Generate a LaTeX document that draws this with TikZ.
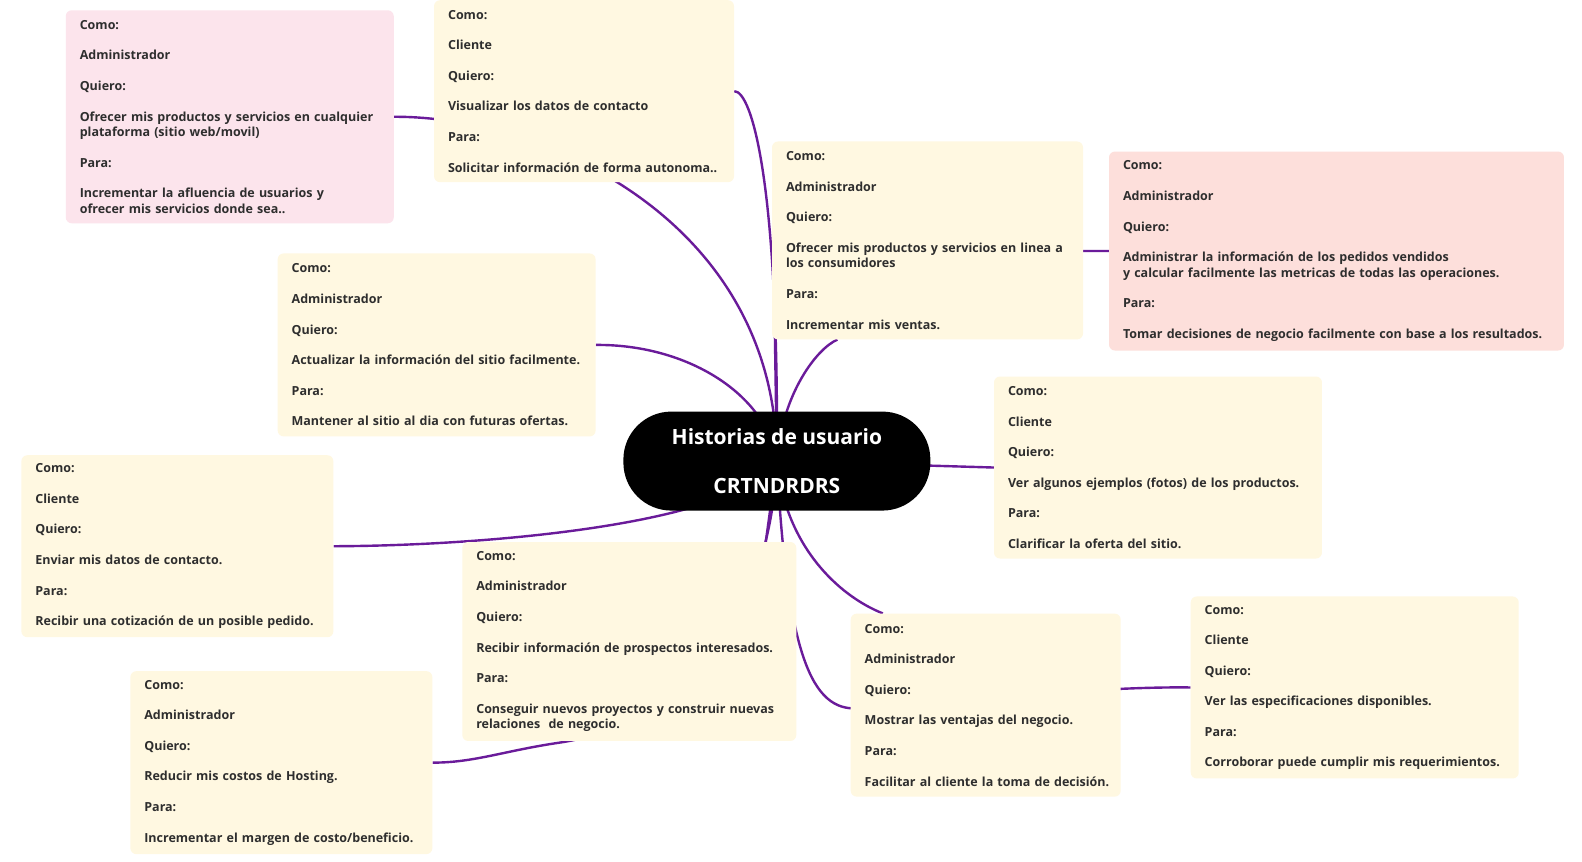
\documentclass[tikz,border=0pt]{standalone}
\usepackage{fontspec}
\setmainfont{Open Sans}
\usepackage{tikz}
\definecolor{mlink}{HTML}{6A1B9A}
\definecolor{mcream}{HTML}{FFF8E1}
\definecolor{mpink}{HTML}{FCE4EC}
\definecolor{msalmon}{HTML}{FDDFDB}
\definecolor{mtext}{HTML}{2E2E2E}
\usetikzlibrary{backgrounds}
\usetikzlibrary{calc}
\newcommand{\historia}[3]{Como:\\[15.2pt]#1\\[15.2pt]Quiero:\\[15.2pt]#2\\[15.2pt]Para:\\[15.2pt]#3}

\begin{document}
\begin{tikzpicture}[x=1.009pt, y=-1.009pt]
    \tikzset{
      card/.style 2 args={
        anchor=north west,
        fill=#1,
        rounded corners=6pt,
        text width=#2,
        inner xsep=14pt,
        inner ysep=8pt,
        align=left,
        text=mtext,
        font=\bfseries\fontsize{12.5}{15.4}\selectfont},
      hubnode/.style={
        fill=black,
        rounded corners=48pt,
        minimum width=307pt,
        minimum height=99pt,
        align=center,
        text=white,
        font=\bfseries\fontsize{21}{24}\selectfont},
      link/.style={draw=mlink, line width=2.4pt}}
    \useasboundingbox (0, 0) rectangle (1568, 854);
    \node[hubnode] at (770, 457) (hub) {Historias de usuario\\[24.5pt]CRTNDRDRS};
    \node[card={mpink}{300pt}, minimum height=213pt] at (65, 10) (adminPlat)
      {\historia{Administrador}{Ofrecer mis productos y servicios en cualquier\\plataforma (sitio web/movil)}{Incrementar la afluencia de usuarios y\\ofrecer mis servicios donde sea..}};
    \node[card={mcream}{272pt}, minimum height=182pt] at (430, 0) (cliContacto)
      {\historia{Cliente}{Visualizar los datos de contacto}{Solicitar información de forma autonoma..}};
    \node[card={mcream}{283pt}, minimum height=198pt] at (765, 140) (adminVentas)
      {\historia{Administrador}{Ofrecer mis productos y servicios en linea a\\los consumidores}{Incrementar mis ventas.}};
    \node[card={msalmon}{427pt}, minimum height=199pt] at (1099, 150) (adminPedidos)
      {\historia{Administrador}{Administrar la información de los pedidos vendidos\\y calcular facilmente las metricas de todas las operaciones.}{Tomar decisiones de negocio facilmente con base a los resultados.}};
    \node[card={mcream}{290pt}, minimum height=183pt] at (275, 251) (adminSitio)
      {\historia{Administrador}{Actualizar la información del sitio facilmente.}{Mantener al sitio al dia con futuras ofertas.}};
    \node[card={mcream}{300pt}, minimum height=182pt] at (985, 373) (cliFotos)
      {\historia{Cliente}{Ver algunos ejemplos (fotos) de los productos.}{Clarificar la oferta del sitio.}};
    \node[card={mcream}{284pt}, minimum height=182pt] at (21, 451) (cliDatos)
      {\historia{Cliente}{Enviar mis datos de contacto.}{Recibir una cotización de un posible pedido.}};
    \node[card={mcream}{306pt}, minimum height=199pt] at (458, 537) (adminProspectos)
      {\historia{Administrador}{Recibir información de prospectos interesados.}{Conseguir nuevos proyectos y construir nuevas\\relaciones\ \ de negocio.}};
    \node[card={mcream}{242pt}, minimum height=183pt] at (843, 608) (adminVentajas)
      {\historia{Administrador}{Mostrar las ventajas del negocio.}{\mbox{Facilitar al cliente la toma de decisión.}}};
    \node[card={mcream}{300pt}, minimum height=182pt] at (1180, 591) (cliSpecs)
      {\historia{Cliente}{Ver las especificaciones disponibles.}{Corroborar puede cumplir mis requerimientos.}};
    \node[card={mcream}{274pt}, minimum height=183pt] at (129, 665) (adminHosting)
      {\historia{Administrador}{Reducir mis costos de Hosting.}{Incrementar el margen de costo/beneficio.}};
    % connectors go behind the cards
    \begin{scope}[on background layer]
      \fill[white] (0, 0) rectangle (1568, 854);
      \draw[link] (hub.center) .. controls (770, 220) and (540, 115) .. (adminPlat.east);
      \draw[link] (hub.center) .. controls (772, 180) and (745, 90) .. (cliContacto.east);
      \draw[link] (hub.center) .. controls (775, 390) and (810, 345) .. ($(adminVentas.south west)+(65, 0)$);
      \draw[link] (hub.center) -- (768, 330) .. controls (768, 260) and (950, 248) .. (adminPedidos.west);
      \draw[link] (hub.center) .. controls (760, 390) and (680, 341) .. (adminSitio.east);
      \draw[link] (hub.center) -- (cliFotos.west);
      \draw[link] (hub.center) .. controls (730, 520) and (480, 541) .. (cliDatos.east);
      \draw[link] (hub.center) -- ($(adminProspectos.north west)+(301, 0)$);
      \draw[link] (hub.center) .. controls (778, 540) and (830, 590) .. ($(adminVentajas.north west)+(32, 0)$);
      \draw[link] (hub.center) .. controls (780, 650) and (805, 705) .. (850, 702) .. controls (920, 698) and (1080, 680) .. (cliSpecs.west);
      \draw[link] (hub.center) .. controls (762, 640) and (650, 722) .. (555, 736) .. controls (500, 744) and (470, 756) .. (adminHosting.east);
    \end{scope}
  \end{tikzpicture}
\end{document}
